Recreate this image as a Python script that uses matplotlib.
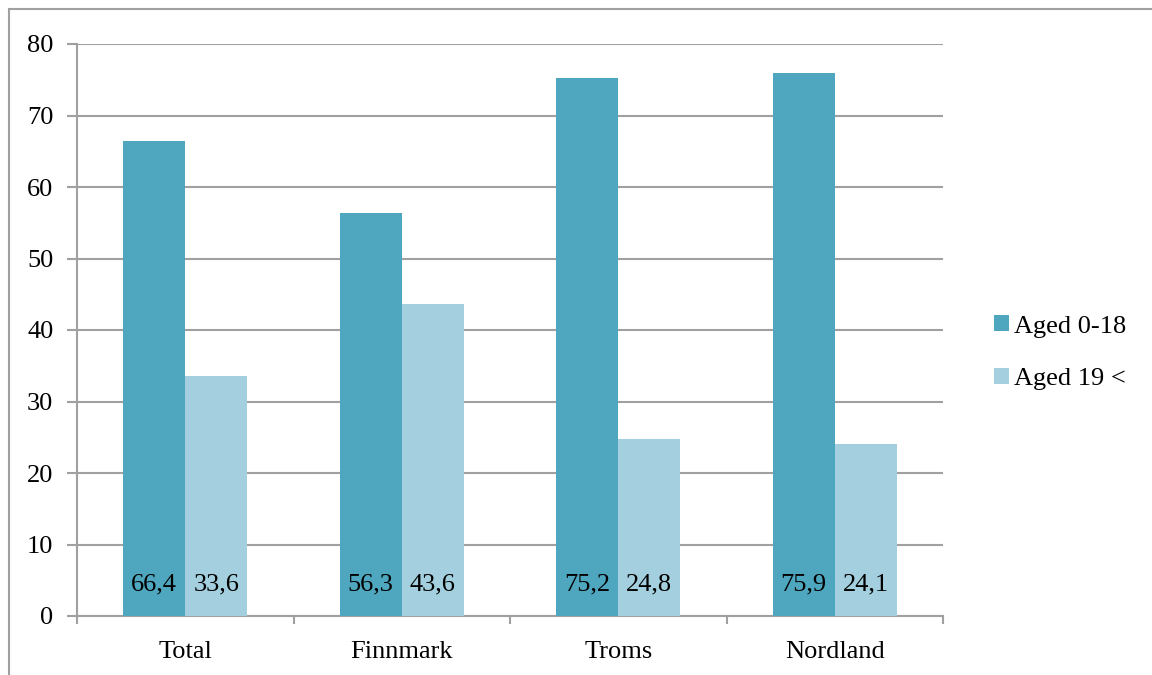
import numpy as np
import matplotlib.pyplot as plt
from matplotlib.patches import Rectangle

categories = ["Total", "Finnmark", "Troms", "Nordland"]
young = [66.4, 56.3, 75.2, 75.9]
old = [33.6, 43.6, 24.8, 24.1]
young_labels = ["66,4", "56,3", "75,2", "75,9"]
old_labels = ["33,6", "43,6", "24,8", "24,1"]
series_names = ["Aged 0-18", "Aged 19 <"]

c_dark = "#4FA7BF"
c_light = "#A3CFDE"
grid_c = "#A0A0A0"
fs = 19

plt.rcParams["font.family"] = ["Liberation Serif", "DejaVu Serif"]

fig = plt.figure(figsize=(11.52, 6.75), dpi=100)
# outer chart border (only top/left visible in the reference)
fig.patches.append(Rectangle((9 / 1152, -0.1), 1.2, 1 - 9 / 675 + 0.1,
                             transform=fig.transFigure, fill=False,
                             edgecolor="#A0A0A0", linewidth=1.5))

ax = fig.add_axes([77 / 1152, 1 - 616 / 675, (943 - 77) / 1152, (616 - 44) / 675])

x = np.arange(len(categories))
w = 0.286
ax.bar(x - w / 2, young, w, color=c_dark, label=series_names[0], zorder=3)
ax.bar(x + w / 2, old, w, color=c_light, label=series_names[1], zorder=3)

for i in range(len(categories)):
    ax.text(x[i] - w / 2, 4.4, young_labels[i], ha="center", va="center",
            fontsize=fs, zorder=4)
    ax.text(x[i] + w / 2, 4.4, old_labels[i], ha="center", va="center",
            fontsize=fs, zorder=4)

ax.set_xlim(-0.5, len(categories) - 0.5)
ax.set_ylim(0, 80)
ax.set_yticks(np.arange(0, 81, 10))
ax.yaxis.grid(True, color=grid_c, linewidth=1.5, zorder=0)
ax.set_axisbelow(True)

ax.set_xticks(x)
ax.set_xticklabels(categories, fontsize=fs)
ax.set_xticks(np.arange(-0.5, len(categories)), minor=True)
ax.tick_params(axis="x", which="major", length=0, pad=18)
ax.tick_params(axis="x", which="minor", length=6, width=1.5, color=grid_c)
ax.tick_params(axis="y", length=7, width=1.5, color=grid_c, labelsize=fs, pad=10)

for s in ["top", "right"]:
    ax.spines[s].set_visible(False)
for s in ["left", "bottom"]:
    ax.spines[s].set_color(grid_c)
    ax.spines[s].set_linewidth(1.5)

ax.legend(loc="center left", bbox_to_anchor=(1.032, 0.46), frameon=False,
          fontsize=fs, handlelength=0.55, handleheight=0.55,
          handletextpad=0.2, labelspacing=1.15)

fig.savefig("out.png", dpi=100)
